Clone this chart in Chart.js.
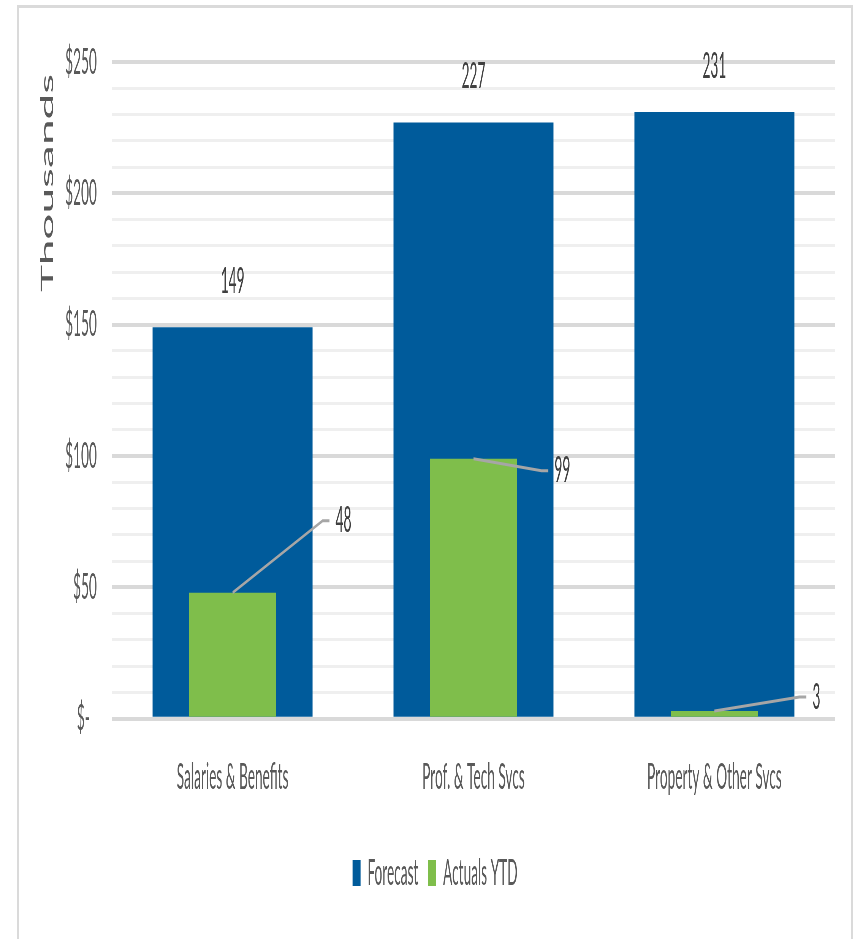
<!DOCTYPE html>
<html><head><meta charset="utf-8">
<script src="https://cdn.jsdelivr.net/npm/chart.js@4.4.1/dist/chart.umd.min.js"></script>
<style>
html,body{margin:0;padding:0;background:#fff;overflow:hidden;width:854px;height:939px;}
#frame{position:absolute;left:17px;top:5px;width:832px;height:940px;border:2px solid #dadada;border-top-width:3px;overflow:hidden;background:#fff;}
#wrap{position:absolute;left:0;top:0;width:2190px;height:931px;transform:scaleX(0.38);transform-origin:0 0;}
</style></head><body>
<div id="frame"><div id="wrap"><canvas id="c" width="2190" height="931"></canvas></div></div>
<script>
const categories = ['Salaries & Benefits', 'Prof. & Tech Svcs', 'Property & Other Svcs'];
const seriesNames = ['Forecast', 'Actuals YTD'];
const forecast = [149, 227, 231];
const actualsYTD = [48, 99, 3];
const yTickLabels = ['$-  ', '$50', '$100', '$150', '$200', '$250'];

const FONT = 'Lato, "Open Sans", sans-serif';
const BLUE = '#005B9B', GREEN = '#7FBE4B';

const labelPlugin = {
  id: 'barLabels',
  afterDatasetsDraw(chart, args, opts) {
    const ctx = chart.ctx;
    ctx.save();
    ctx.font = opts.fontSize + 'px ' + FONT;
    ctx.fillStyle = opts.color;
    ctx.textBaseline = 'middle';
    const m0 = chart.getDatasetMeta(0);
    ctx.textAlign = 'center';
    m0.data.forEach((bar, i) => {
      ctx.fillText(String(chart.data.datasets[0].data[i]), bar.x, bar.y + opts.forecastDy);
    });
    const m1 = chart.getDatasetMeta(1);
    m1.data.forEach((bar, i) => {
      const off = opts.actualOffsets[i];
      const lx = bar.x + off[0], ly = bar.y + off[1];
      const endX = lx - opts.gap, elbowX = endX - opts.elbow;
      ctx.strokeStyle = opts.leaderColor;
      ctx.lineWidth = opts.leaderWidth;
      ctx.beginPath();
      ctx.moveTo(bar.x, bar.y);
      ctx.lineTo(elbowX, ly);
      ctx.lineTo(endX, ly);
      ctx.stroke();
      ctx.textAlign = 'left';
      ctx.fillText(String(chart.data.datasets[1].data[i]), lx, ly);
    });
    ctx.restore();
  }
};

new Chart(document.getElementById('c'), {
  type: 'bar',
  data: {
    labels: categories,
    datasets: [
      { label: seriesNames[0], data: forecast, backgroundColor: BLUE, borderWidth: 0,
        barPercentage: 0.664, categoryPercentage: 1, grouped: false, order: 1 },
      { label: seriesNames[1], data: actualsYTD, backgroundColor: GREEN, borderWidth: 0,
        barPercentage: 0.361, categoryPercentage: 1, grouped: false, order: 0 }
    ]
  },
  options: {
    responsive: false,
    animation: false,
    devicePixelRatio: 1,
    layout: { padding: { left: 0, right: 0, top: 54, bottom: 38 } },
    plugins: {
      tooltip: { enabled: false },
      legend: {
        position: 'bottom',
        labels: {
          font: { family: FONT, size: 36 }, color: '#595959',
          boxWidth: 21, boxHeight: 26, padding: 26,
          sort: (a, b) => a.datasetIndex - b.datasetIndex
        }
      },
      barLabels: {
        fontSize: 36, color: '#404040', forecastDy: -46,
        actualOffsets: [[271, -72], [213, 12], [258, -14]],
        gap: 16, elbow: 18, leaderColor: '#a6a6a6', leaderWidth: 3
      }
    },
    scales: {
      x: {
        afterFit: (s) => { s.height = s.height + 1; },
        grid: { display: false },
        border: { display: false },
        ticks: { font: { family: FONT, size: 36 }, color: '#595959', padding: 29, maxRotation: 0, autoSkip: false }
      },
      y: {
        min: 0, max: 250,
        afterFit: (s) => { s.width = 245; s.paddingTop = 0; s.paddingBottom = 0; },
        border: { display: false },
        grid: {
          drawTicks: false,
          color: (c) => (c.tick && c.tick.value % 50 === 0) ? '#d9d9d9' : '#efefef',
          lineWidth: (c) => (c.tick && c.tick.value % 50 === 0) ? 4 : 3
        },
        ticks: {
          stepSize: 10, autoSkip: false, padding: 40,
          font: { family: FONT, size: 36 }, color: '#595959',
          callback: (v) => (v % 50 === 0 ? yTickLabels[v / 50] : '')
        },
        title: {
          display: true, text: 'Thousands ', align: 'end',
          font: { family: FONT, size: 46 }, color: '#595959',
          padding: { top: 48, bottom: 0 }
        }
      },
      yRight: {
        position: 'right',
        afterFit: (s) => { s.width = 43; s.paddingTop = 0; s.paddingBottom = 0; },
        grid: { display: false },
        border: { display: false },
        ticks: { display: false }
      }
    }
  },
  plugins: [labelPlugin]
});
</script>
</body></html>
